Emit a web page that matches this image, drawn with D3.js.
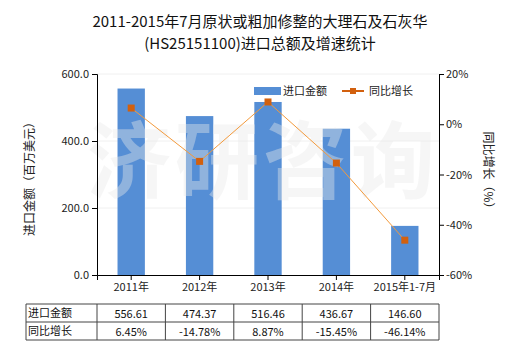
<!DOCTYPE html>
<html>
<head>
<meta charset="utf-8">
<script src="https://cdn.jsdelivr.net/npm/d3@7"></script>
<style>
  html, body { margin: 0; padding: 0; background: #fff; }
  svg { display: block; font-family: "Noto Sans CJK SC", "Noto Sans", sans-serif; }
</style>
</head>
<body>
<svg id="chart" width="520" height="350"></svg>
<script>
// Categories and series
const categories = ["2011年", "2012年", "2013年", "2014年", "2015年1-7月"];
const importValues = [556.61, 474.37, 516.46, 436.67, 146.60];
const growthRates = [6.45, -14.78, 8.87, -15.45, -46.14];
const importLabels = ["556.61", "474.37", "516.46", "436.67", "146.60"];
const growthLabels = ["6.45%", "-14.78%", "8.87%", "-15.45%", "-46.14%"];
const leftTicks = [0, 200, 400, 600];
const rightTicks = [20, 0, -20, -40, -60];
const rowNames = ["进口金额", "同比增长"];

const svg = d3.select("#chart");
const plotL = 97, plotR = 439, plotT = 74, plotB = 275;

const x = d3.scaleBand().domain(categories).range([plotL, plotR]).paddingInner(0.6).paddingOuter(0.3);
const xc = d3.scaleBand().domain(categories).range([plotL, plotR]);
const yL = d3.scaleLinear().domain([0, 600]).range([plotB, plotT]);
const yR = d3.scaleLinear().domain([-60, 20]).range([plotB, plotT]);

const barColor = "#558ed5";
const lineColor = "#f39a3c";
const markColor = "#d2600e";

// Title
svg.append("text").attr("x", 260).attr("y", 27).attr("text-anchor", "middle")
  .attr("font-size", 15).attr("fill", "#111")
  .text("2011-2015年7月原状或粗加修整的大理石及石灰华");
svg.append("text").attr("x", 260).attr("y", 49).attr("text-anchor", "middle")
  .attr("font-size", 15).attr("fill", "#111")
  .text("(HS25151100)进口总额及增速统计");

// Faint gridlines
svg.append("g").selectAll("line").data(leftTicks.filter(d => d > 0)).join("line")
  .attr("x1", plotL).attr("x2", plotR)
  .attr("y1", d => yL(d)).attr("y2", d => yL(d))
  .attr("stroke", "#f0f0f0").attr("stroke-width", 1);

// Bars
svg.append("g").selectAll("rect").data(categories).join("rect")
  .attr("x", d => x(d))
  .attr("width", x.bandwidth())
  .attr("y", (d, i) => yL(importValues[i]))
  .attr("height", (d, i) => yL(0) - yL(importValues[i]))
  .attr("fill", barColor);

// Watermark
svg.append("text").attr("x", 263).attr("y", 192).attr("text-anchor", "middle")
  .attr("font-size", 84).attr("font-weight", "bold")
  .attr("letter-spacing", 4)
  .attr("fill", "#eaeaea").attr("opacity", 0.4)
  .text("济研咨询");

// Growth line
const cx = d => xc(d) + xc.bandwidth() / 2;
const line = d3.line().x((d, i) => cx(categories[i])).y(d => yR(d));
svg.append("path").datum(growthRates)
  .attr("d", line).attr("fill", "none")
  .attr("stroke", lineColor).attr("stroke-width", 1);
svg.append("g").selectAll("rect").data(growthRates).join("rect")
  .attr("x", (d, i) => cx(categories[i]) - 3.5)
  .attr("y", d => yR(d) - 3.5)
  .attr("width", 7).attr("height", 7)
  .attr("fill", markColor);

// Axes
const axisL = d3.axisLeft(yL).tickValues(leftTicks).tickFormat(d3.format(".1f")).tickSize(5);
const gL = svg.append("g").attr("transform", `translate(${plotL},0)`).call(axisL);
const axisR = d3.axisRight(yR).tickValues(rightTicks).tickFormat(d => d + "%").tickSize(5);
const gR = svg.append("g").attr("transform", `translate(${plotR},0)`).call(axisR);
const axisB = d3.axisBottom(xc).tickSize(5);
const gB = svg.append("g").attr("transform", `translate(0,${plotB})`).call(axisB);
[gL, gR, gB].forEach(g => {
  g.select(".domain").attr("stroke", "#000");
  g.selectAll(".tick line").attr("stroke", "#000");
  g.selectAll("text").attr("font-size", 11).attr("fill", "#222")
    .attr("font-family", "\"Noto Sans CJK SC\", sans-serif");
});
gL.selectAll(".tick text").attr("x", -8);
gR.selectAll(".tick text").attr("x", 7);
gB.selectAll(".tick text").attr("y", 8);

// Axis titles
svg.append("text").attr("transform", "translate(34,176) rotate(-90)")
  .attr("text-anchor", "middle").attr("font-size", 12).attr("fill", "#222")
  .text("进口金额（百万美元）");
svg.append("text").attr("transform", "translate(484,173) rotate(90)")
  .attr("text-anchor", "middle").attr("font-size", 12).attr("fill", "#222")
  .text("同比增长（%）");

// Legend
const lg = svg.append("g");
lg.append("rect").attr("x", 254).attr("y", 87).attr("width", 27).attr("height", 8).attr("fill", barColor);
lg.append("text").attr("x", 283).attr("y", 95).attr("font-size", 11).attr("fill", "#222").text("进口金额");
lg.append("line").attr("x1", 342).attr("x2", 364).attr("y1", 91).attr("y2", 91)
  .attr("stroke", markColor).attr("stroke-width", 2);
lg.append("rect").attr("x", 350).attr("y", 88).attr("width", 6).attr("height", 6).attr("fill", markColor);
lg.append("text").attr("x", 369).attr("y", 95).attr("font-size", 11).attr("fill", "#222").text("同比增长");

// Data table under the chart
const tLeft = 26, tTop = 304, rowH = 18;
const colX = [tLeft].concat(categories.map(c => xc(c))).concat([plotR]);
const tb = svg.append("g").attr("stroke", "#444").attr("stroke-width", 1);
[0, 1, 2].forEach(r => tb.append("line")
  .attr("x1", tLeft).attr("x2", plotR)
  .attr("y1", tTop + r * rowH).attr("y2", tTop + r * rowH));
colX.forEach(cxv => tb.append("line")
  .attr("x1", cxv).attr("x2", cxv)
  .attr("y1", tTop).attr("y2", tTop + 2 * rowH));
rowNames.forEach((name, r) => {
  svg.append("text").attr("x", tLeft + 2).attr("y", tTop + r * rowH + 13)
    .attr("font-size", 11).attr("fill", "#111").text(name);
});
const rows = [importLabels, growthLabels];
rows.forEach((vals, r) => {
  svg.append("g").selectAll("text").data(vals).join("text")
    .attr("x", (d, i) => cx(categories[i]))
    .attr("y", tTop + r * rowH + 14)
    .attr("text-anchor", "middle").attr("font-size", 11).attr("fill", "#111")
    .text(d => d);
});
</script>
</body>
</html>
